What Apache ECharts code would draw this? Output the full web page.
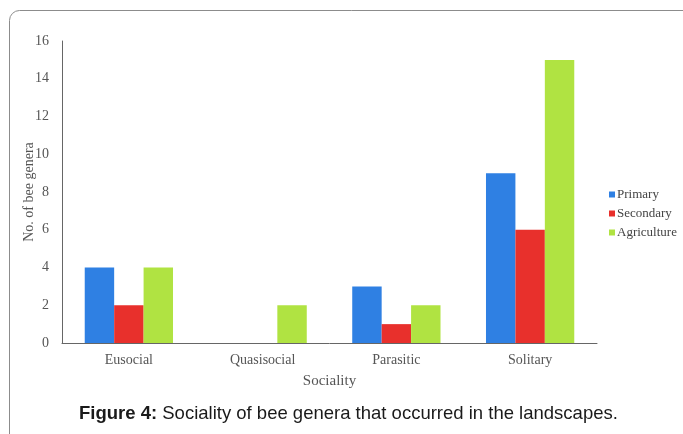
<!DOCTYPE html>
<html>
<head>
<meta charset="utf-8">
<script src="https://cdn.jsdelivr.net/npm/echarts@6/dist/echarts.min.js"></script>
<style>
  html, body { margin: 0; padding: 0; background: #fff; }
  #chart { width: 683px; height: 434px; }
</style>
</head>
<body>
<div id="chart"></div>
<script>
// Number of bee genera per sociality class in each landscape type
const categories = ['Eusocial', 'Quasisocial', 'Parasitic', 'Solitary'];
const primary = [4, 0, 3, 9];
const secondary = [2, 0, 1, 6];
const agriculture = [4, 2, 2, 15];
const yTicks = [0, 2, 4, 6, 8, 10, 12, 14, 16];

const serif = '"Liberation Serif", "DejaVu Serif", serif';
const chart = echarts.init(document.getElementById('chart'));

function barSeries(name, data, color) {
  return {
    name: name,
    type: 'bar',
    data: data,
    barGap: '0%',
    barCategoryGap: '34%',
    itemStyle: { color: color },
    emphasis: { disabled: true }
  };
}

chart.setOption({
  animation: false,
  graphic: [{
    type: 'rect',
    shape: { x: 9.5, y: 10.5, width: 700, height: 450, r: 10 },
    style: { fill: 'none', stroke: '#8c8c8c', lineWidth: 1 },
    silent: true
  }],
  title: {
    text: '{b|Figure 4:} Sociality of bee genera that occurred in the landscapes.',
    left: 79,
    top: 404,
    padding: 0,
    textStyle: {
      fontFamily: '"Liberation Sans", Arial, sans-serif',
      fontSize: 18.5,
      fontWeight: 'normal',
      color: '#1a1a1a',
      rich: {
        b: {
          fontFamily: '"Liberation Sans", Arial, sans-serif',
          fontSize: 18.5,
          fontWeight: 'bold',
          color: '#1a1a1a'
        }
      }
    }
  },
  legend: {
    orient: 'vertical',
    left: 604,
    top: 183,
    itemWidth: 6,
    itemHeight: 6,
    itemGap: 6,
    icon: 'rect',
    textStyle: { fontFamily: serif, fontSize: 13, color: '#444', padding: [0, 0, 0, -3] },
    data: ['Primary', 'Secondary', 'Agriculture']
  },
  grid: { left: 62, right: 86, top: 41, bottom: 91 },
  xAxis: {
    type: 'category',
    data: categories,
    name: 'Sociality',
    nameLocation: 'middle',
    nameGap: 31,
    nameTextStyle: { fontFamily: serif, fontSize: 15, color: '#555' },
    axisLine: { lineStyle: { color: '#666', width: 1 } },
    axisTick: { show: false },
    axisLabel: { fontFamily: serif, fontSize: 14, color: '#555', margin: 10 }
  },
  yAxis: {
    type: 'value',
    min: yTicks[0],
    max: yTicks[yTicks.length - 1],
    interval: 2,
    name: 'No. of bee genera',
    nameLocation: 'middle',
    nameGap: 26,
    nameMoveOverlap: false,
    nameTextStyle: { fontFamily: serif, fontSize: 14, color: '#555' },
    axisLine: { show: true, lineStyle: { color: '#666', width: 1 } },
    axisTick: { show: false },
    splitLine: { show: false },
    axisLabel: { fontFamily: serif, fontSize: 14, color: '#555', margin: 13 }
  },
  series: [
    barSeries('Primary', primary, '#2f80e3'),
    barSeries('Secondary', secondary, '#e8302c'),
    barSeries('Agriculture', agriculture, '#b0e342')
  ]
});
</script>
</body>
</html>
